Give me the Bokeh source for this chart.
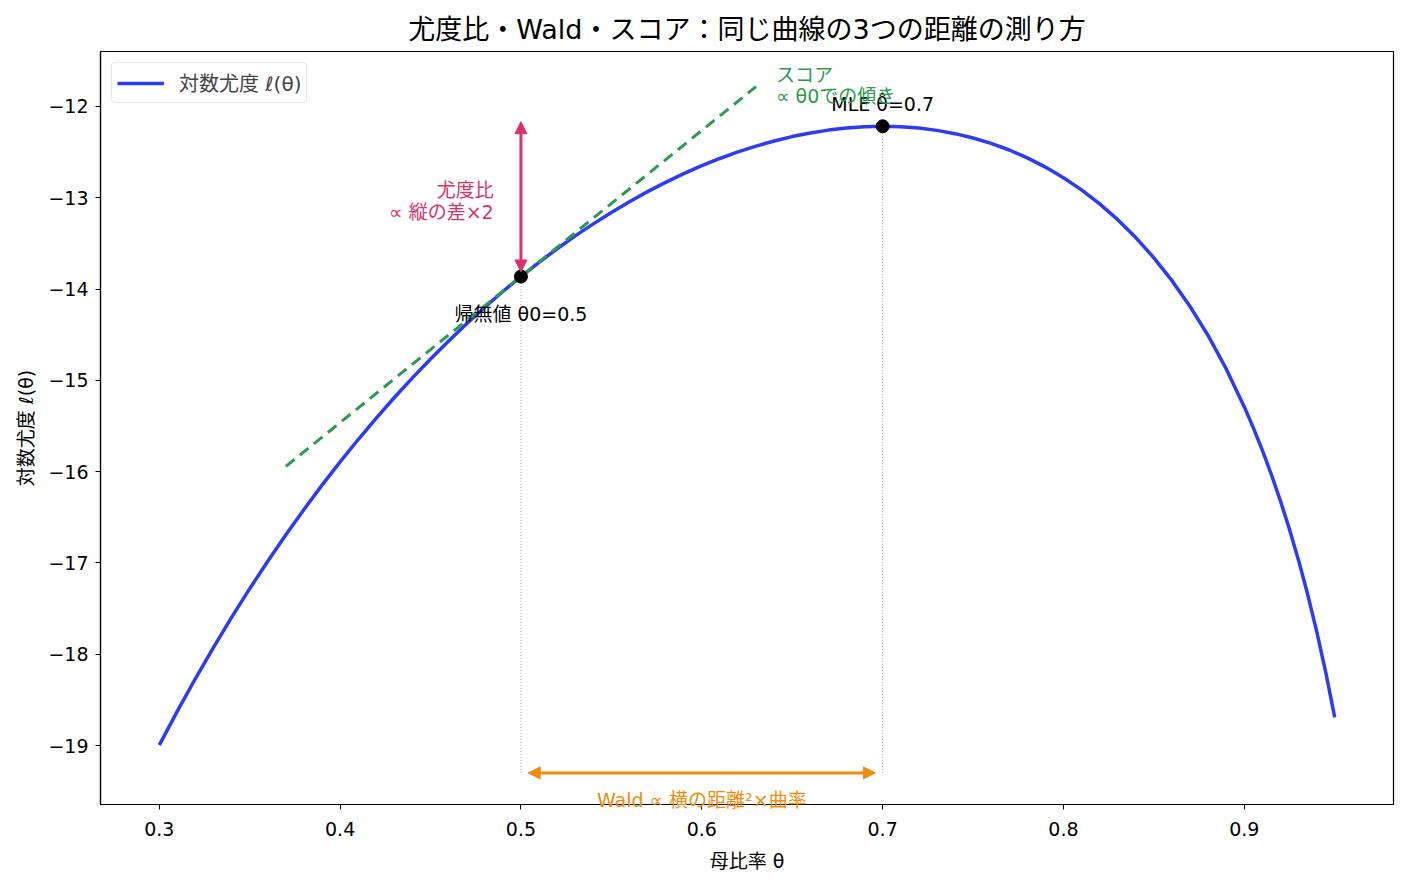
from bokeh.plotting import figure
from bokeh.models import (Arrow, NormalHead, Range1d, Label, FixedTicker,
                          Legend, LegendItem, CustomJSTickFormatter)
from bokeh.embed import file_html
from bokeh.resources import INLINE

# Binomial log-likelihood curve (14 successes out of 20), sampled values
theta = [0.30, 0.31, 0.32, 0.33, 0.34, 0.35, 0.36, 0.37, 0.38, 0.39,
         0.40, 0.41, 0.42, 0.43, 0.44, 0.45, 0.46, 0.47, 0.48, 0.49,
         0.50, 0.51, 0.52, 0.53, 0.54, 0.55, 0.56, 0.57, 0.58, 0.59,
         0.60, 0.61, 0.62, 0.63, 0.64, 0.65, 0.66, 0.67, 0.68, 0.69,
         0.70, 0.71, 0.72, 0.73, 0.74, 0.75, 0.76, 0.77, 0.78, 0.79,
         0.80, 0.81, 0.82, 0.83, 0.84, 0.85, 0.86, 0.87, 0.88, 0.89,
         0.90, 0.905, 0.91, 0.915, 0.92, 0.925, 0.93, 0.935, 0.94, 0.945,
         0.95]
loglik = [-18.996, -18.623, -18.266, -17.924, -17.596, -17.282, -16.981,
          -16.692, -16.414, -16.148, -15.893, -15.648, -15.413, -15.188,
          -14.973, -14.766, -14.569, -14.380, -14.199, -14.027, -13.863,
          -13.707, -13.559, -13.418, -13.286, -13.161, -13.043, -12.933,
          -12.831, -12.736, -12.649, -12.570, -12.498, -12.434, -12.378,
          -12.330, -12.290, -12.259, -12.236, -12.222, -12.217, -12.222,
          -12.237, -12.262, -12.298, -12.345, -12.405, -12.477, -12.563,
          -12.664, -12.781, -12.914, -13.067, -13.240, -13.436, -13.658,
          -13.908, -14.191, -14.511, -14.875, -15.291, -15.521, -15.768,
          -16.034, -16.322, -16.633, -16.972, -17.341, -17.747, -18.195,
          -18.692]

# Null value and MLE
theta0, ll0 = 0.5, -13.863
theta_hat, ll_hat = 0.7, -12.217

# Tangent (score) line at theta0
tangent_x = [0.37, 0.63]
tangent_y = [-15.943, -11.783]

# Level of the horizontal Wald arrow
wald_y = -19.3

x_ticks = [0.3, 0.4, 0.5, 0.6, 0.7, 0.8, 0.9]
y_ticks = [-19, -18, -17, -16, -15, -14, -13, -12]

BLUE = "#2b3cf2"
GREEN = "#2e9a4f"
RED = "#d9336b"
ORANGE = "#ee8c0c"
FONT = "DejaVu Sans, Noto Sans CJK JP"
SIZE = "19px"

X0, X1 = 0.2675, 0.9825
p = figure(width=1407, height=885, output_backend="svg", toolbar_location=None,
           x_range=Range1d(X0, X1), y_range=Range1d(-19.646, -11.398),
           min_border_left=100, min_border_right=14, min_border_top=51,
           min_border_bottom=81)

p.title.text = "尤度比・Wald・スコア：同じ曲線の3つの距離の測り方"
p.title.align = "center"
p.title.text_font = FONT
p.title.text_font_size = "27px"
p.title.text_font_style = "normal"
p.title.text_color = "black"
p.title.standoff = 13

p.grid.visible = False
p.outline_line_color = "black"
p.outline_line_width = 1.2
p.background_fill_color = "white"
p.border_fill_color = "white"

for ax in (p.xaxis[0], p.yaxis[0]):
    ax.axis_line_color = "black"
    ax.axis_line_width = 1.2
    ax.major_tick_line_color = "black"
    ax.major_tick_out = 5
    ax.major_tick_in = 0
    ax.minor_tick_line_color = None
    ax.major_label_text_font = FONT
    ax.major_label_text_font_size = SIZE
    ax.major_label_text_color = "black"
    ax.axis_label_text_font = FONT
    ax.axis_label_text_font_size = SIZE
    ax.axis_label_text_font_style = "normal"
    ax.axis_label_text_color = "black"

p.xaxis.ticker = FixedTicker(ticks=x_ticks)
p.xaxis.formatter = CustomJSTickFormatter(code="return tick.toFixed(1);")
p.xaxis.major_label_standoff = 12

p.yaxis.ticker = FixedTicker(ticks=y_ticks)
p.yaxis.formatter = CustomJSTickFormatter(
    code="return (tick < 0 ? '−' : '') + Math.abs(tick).toFixed(0);")
p.yaxis.axis_label = "対数尤度 ℓ(θ)"
p.yaxis.major_label_standoff = 7
p.yaxis.axis_label_standoff = 8

# Guide lines from the two points down to the Wald arrow
p.segment(x0=[theta0, theta_hat], y0=[wald_y, wald_y],
          x1=[theta0, theta_hat], y1=[ll0, ll_hat],
          line_color="#888888", line_width=0.8, line_dash="1 2")

# Log-likelihood curve
curve = p.line(theta, loglik, line_color=BLUE, line_width=3.5)

# Score: tangent at theta0
p.line(tangent_x, tangent_y, line_color=GREEN, line_width=3, line_dash="11 7")

# Likelihood ratio: vertical gap
p.add_layout(Arrow(x_start=theta0, y_start=ll_hat + 0.05, x_end=theta0, y_end=ll0 + 0.05,
                   line_color=RED, line_width=3,
                   start=NormalHead(size=12, fill_color=RED, line_color=RED),
                   end=NormalHead(size=12, fill_color=RED, line_color=RED)))

# Wald: horizontal distance
p.add_layout(Arrow(x_start=theta0 + 0.004, y_start=wald_y,
                   x_end=theta_hat - 0.004, y_end=wald_y,
                   line_color=ORANGE, line_width=3,
                   start=NormalHead(size=12, fill_color=ORANGE, line_color=ORANGE),
                   end=NormalHead(size=12, fill_color=ORANGE, line_color=ORANGE)))

# Points
p.scatter([theta0, theta_hat], [ll0, ll_hat], size=13, color="black")


def label(x, y, text, color="black", align="left", place=None):
    lab = Label(x=x, y=y, text=text, text_color=color, text_align=align,
                text_baseline="middle", text_font=FONT, text_font_size=SIZE)
    if place is None:
        p.add_layout(lab)
    else:
        p.add_layout(lab, place)


label(theta_hat, -11.978, "MLE θ̂=0.7", align="center")
label(theta0, -14.278, "帰無値 θ0=0.5", align="center")
label(0.4849, -12.920, "尤度比", color=RED, align="right")
label(0.4849, -13.161, "∝ 縦の差×2", color=RED, align="right")
label(0.641, -11.660, "スコア", color=GREEN)
label(0.641, -11.890, "∝ θ0での傾き", color=GREEN)
# These two sit on the lower edge of the frame, so they live in the
# bottom panel where they are not clipped
label(0.6, -19.602, "Wald ∝ 横の距離²×曲率", color=ORANGE, align="center",
      place="below")
label((X0 + X1) / 2, -20.26, "母比率 θ", align="center", place="below")

legend = Legend(items=[LegendItem(label="対数尤度 ℓ(θ)", renderers=[curve])],
                location="top_left", margin=11, padding=5, spacing=0,
                glyph_width=47, glyph_height=20, label_standoff=15,
                label_text_font=FONT, label_text_font_size="20px",
                border_line_color="#cccccc", border_line_width=1,
                background_fill_alpha=0.9)
if "border_radius" in Legend.properties():
    legend.border_radius = 4
p.add_layout(legend)

open("out.html", "w").write(file_html(p, INLINE))
